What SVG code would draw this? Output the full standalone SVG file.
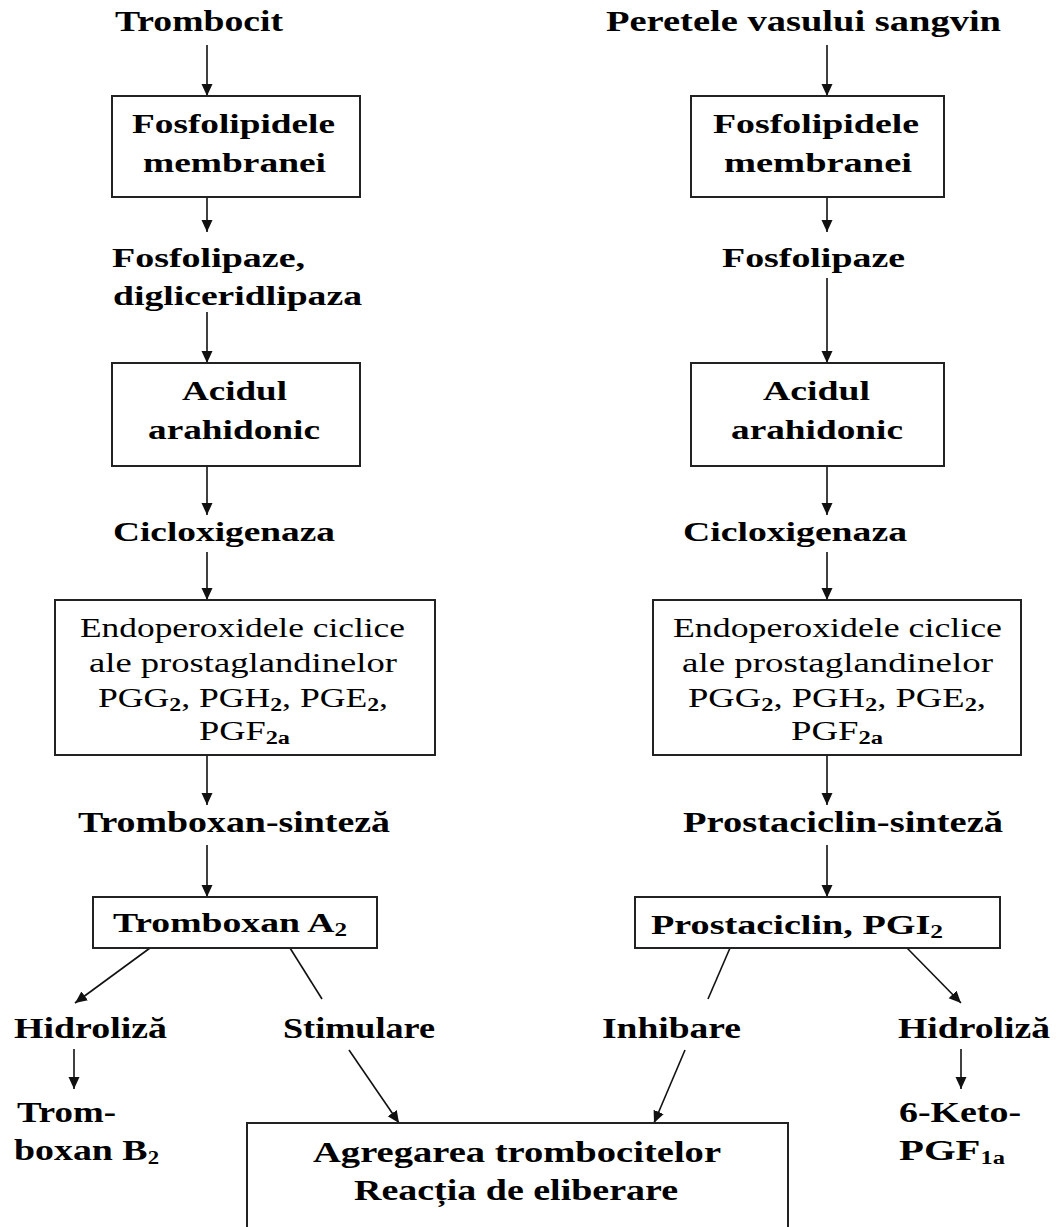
<svg xmlns="http://www.w3.org/2000/svg" width="1057" height="1227" viewBox="0 0 1057 1227">
<style>
text{font-family:"Liberation Serif","Times New Roman",serif;fill:#000}
.b{font-weight:bold}
.t30{font-size:30px;font-weight:bold}
.t28{font-size:28px;font-weight:bold}
.t27{font-size:27px;font-weight:bold}
.reg{font-size:27px;font-weight:normal}
.sub{font-size:18px;font-weight:bold}
.box{fill:#fff;stroke:#222;stroke-width:2}
.c{stroke:#111;stroke-width:1.6;fill:none}
.a{marker-end:url(#ah)}
</style>
<defs>
<marker id="ah" markerUnits="userSpaceOnUse" markerWidth="13" markerHeight="12" refX="12" refY="5.5" orient="auto">
<path d="M0,0 L12,5.5 L0,11 z" fill="#111"/>
</marker>
</defs>
<rect width="1057" height="1227" fill="#fff"/>

<g id="connectors">
<line class="c a" x1="207" y1="45" x2="207" y2="96"/>
<line class="c a" x1="207" y1="197" x2="207" y2="232"/>
<line class="c a" x1="207" y1="312" x2="207" y2="363"/>
<line class="c a" x1="207" y1="466" x2="207" y2="515"/>
<line class="c a" x1="207" y1="552" x2="207" y2="600"/>
<line class="c a" x1="207" y1="755" x2="207" y2="805"/>
<line class="c a" x1="207" y1="845" x2="207" y2="897"/>
<line class="c a" x1="827" y1="45" x2="827" y2="96"/>
<line class="c a" x1="827" y1="197" x2="827" y2="232"/>
<line class="c a" x1="827" y1="278" x2="827" y2="363"/>
<line class="c a" x1="827" y1="466" x2="827" y2="515"/>
<line class="c a" x1="827" y1="552" x2="827" y2="600"/>
<line class="c a" x1="827" y1="755" x2="827" y2="805"/>
<line class="c a" x1="827" y1="845" x2="827" y2="897"/>
<line class="c a" x1="150" y1="948" x2="75" y2="1003"/>
<line class="c" x1="290" y1="948" x2="322" y2="999"/>
<line class="c" x1="730" y1="948" x2="708" y2="999"/>
<line class="c a" x1="907" y1="948" x2="961" y2="1003"/>
<line class="c a" x1="74" y1="1049" x2="74" y2="1089"/>
<line class="c a" x1="961" y1="1049" x2="961" y2="1089"/>
<line class="c a" x1="349" y1="1050" x2="399" y2="1123"/>
<line class="c a" x1="685" y1="1050" x2="654" y2="1123"/>
</g>

<g id="trombocit"><text class="t30" x="115" y="31" textLength="168" lengthAdjust="spacingAndGlyphs">Trombocit</text></g>
<g id="fosfolipidele-l">
<rect class="box" x="112" y="96" width="248" height="101"/>
<text class="t27" x="132" y="133" textLength="203" lengthAdjust="spacingAndGlyphs">Fosfolipidele</text>
<text class="t27" x="143" y="172" textLength="183" lengthAdjust="spacingAndGlyphs">membranei</text>
</g>
<g id="fosfolipaze-l">
<text class="t28" x="112" y="267" textLength="193" lengthAdjust="spacingAndGlyphs">Fosfolipaze,</text>
<text class="t28" x="113" y="305" textLength="249" lengthAdjust="spacingAndGlyphs">digliceridlipaza</text>
</g>
<g id="acid-l">
<rect class="box" x="112" y="363" width="248" height="103"/>
<text class="t27" x="182" y="400" textLength="105" lengthAdjust="spacingAndGlyphs">Acidul</text>
<text class="t27" x="148" y="439" textLength="172" lengthAdjust="spacingAndGlyphs">arahidonic</text>
</g>
<g id="ciclo-l"><text class="t28" x="113" y="541" textLength="222" lengthAdjust="spacingAndGlyphs">Cicloxigenaza</text></g>
<g id="endo-l">
<rect class="box" x="55" y="600" width="380" height="155"/>
<text class="reg" x="80" y="637" textLength="325" lengthAdjust="spacingAndGlyphs">Endoperoxidele ciclice</text>
<text class="reg" x="89" y="672" textLength="308" lengthAdjust="spacingAndGlyphs">ale prostaglandinelor</text>
<text class="reg" x="98" y="707" textLength="290" lengthAdjust="spacingAndGlyphs">PGG<tspan class="sub" dy="4">2</tspan><tspan dy="-4">, PGH</tspan><tspan class="sub" dy="4">2</tspan><tspan dy="-4">, PGE</tspan><tspan class="sub" dy="4">2</tspan><tspan dy="-4">,</tspan></text>
<text class="reg" x="199" y="740" textLength="91" lengthAdjust="spacingAndGlyphs">PGF<tspan class="sub" dy="4">2a</tspan></text>
</g>
<g id="txsint"><text class="t30" x="78" y="832" textLength="312" lengthAdjust="spacingAndGlyphs">Tromboxan-sinteză</text></g>
<g id="txa2">
<rect class="box" x="93" y="897" width="284" height="51"/>
<text class="t27" x="113" y="932" textLength="234" lengthAdjust="spacingAndGlyphs">Tromboxan A<tspan class="sub" dy="4">2</tspan></text>
</g>
<g id="hidro-l"><text class="t30" x="14" y="1038" textLength="153" lengthAdjust="spacingAndGlyphs">Hidroliză</text></g>
<g id="stim"><text class="t30" x="283" y="1038" textLength="152" lengthAdjust="spacingAndGlyphs">Stimulare</text></g>
<g id="txb2">
<text class="t30" x="17" y="1122" textLength="99" lengthAdjust="spacingAndGlyphs">Trom-</text>
<text class="t30" x="14" y="1160" textLength="145" lengthAdjust="spacingAndGlyphs">boxan B<tspan class="sub" dy="4">2</tspan></text>
</g>

<g id="perete"><text class="t30" x="606" y="31" textLength="395" lengthAdjust="spacingAndGlyphs">Peretele vasului sangvin</text></g>
<g id="fosfolipidele-r">
<rect class="box" x="691" y="96" width="253" height="101"/>
<text class="t27" x="713" y="133" textLength="206" lengthAdjust="spacingAndGlyphs">Fosfolipidele</text>
<text class="t27" x="724" y="172" textLength="188" lengthAdjust="spacingAndGlyphs">membranei</text>
</g>
<g id="fosfolipaze-r"><text class="t28" x="722" y="267" textLength="183" lengthAdjust="spacingAndGlyphs">Fosfolipaze</text></g>
<g id="acid-r">
<rect class="box" x="691" y="363" width="253" height="103"/>
<text class="t27" x="763" y="400" textLength="107" lengthAdjust="spacingAndGlyphs">Acidul</text>
<text class="t27" x="731" y="439" textLength="172" lengthAdjust="spacingAndGlyphs">arahidonic</text>
</g>
<g id="ciclo-r"><text class="t28" x="683" y="541" textLength="224" lengthAdjust="spacingAndGlyphs">Cicloxigenaza</text></g>
<g id="endo-r">
<rect class="box" x="653" y="600" width="368" height="155"/>
<text class="reg" x="673" y="637" textLength="329" lengthAdjust="spacingAndGlyphs">Endoperoxidele ciclice</text>
<text class="reg" x="682" y="672" textLength="311" lengthAdjust="spacingAndGlyphs">ale prostaglandinelor</text>
<text class="reg" x="688" y="707" textLength="298" lengthAdjust="spacingAndGlyphs">PGG<tspan class="sub" dy="4">2</tspan><tspan dy="-4">, PGH</tspan><tspan class="sub" dy="4">2</tspan><tspan dy="-4">, PGE</tspan><tspan class="sub" dy="4">2</tspan><tspan dy="-4">,</tspan></text>
<text class="reg" x="791" y="740" textLength="92" lengthAdjust="spacingAndGlyphs">PGF<tspan class="sub" dy="4">2a</tspan></text>
</g>
<g id="pgisint"><text class="t30" x="683" y="832" textLength="320" lengthAdjust="spacingAndGlyphs">Prostaciclin-sinteză</text></g>
<g id="pgi2">
<rect class="box" x="635" y="897" width="365" height="51"/>
<text class="t27" x="651" y="934" textLength="292" lengthAdjust="spacingAndGlyphs">Prostaciclin, PGI<tspan class="sub" dy="4">2</tspan></text>
</g>
<g id="inhib"><text class="t30" x="602" y="1038" textLength="139" lengthAdjust="spacingAndGlyphs">Inhibare</text></g>
<g id="hidro-r"><text class="t30" x="898" y="1038" textLength="152" lengthAdjust="spacingAndGlyphs">Hidroliză</text></g>
<g id="keto">
<text class="t30" x="899" y="1122" textLength="122" lengthAdjust="spacingAndGlyphs">6-Keto-</text>
<text class="t30" x="899" y="1160" textLength="106" lengthAdjust="spacingAndGlyphs">PGF<tspan class="sub" dy="4">1a</tspan></text>
</g>
<g id="agregare">
<rect class="box" x="247" y="1123" width="541" height="130"/>
<text class="t30" x="313" y="1162" textLength="408" lengthAdjust="spacingAndGlyphs">Agregarea trombocitelor</text>
<text class="t30" x="354" y="1200" textLength="324" lengthAdjust="spacingAndGlyphs">Reacția de eliberare</text>
</g>
</svg>
